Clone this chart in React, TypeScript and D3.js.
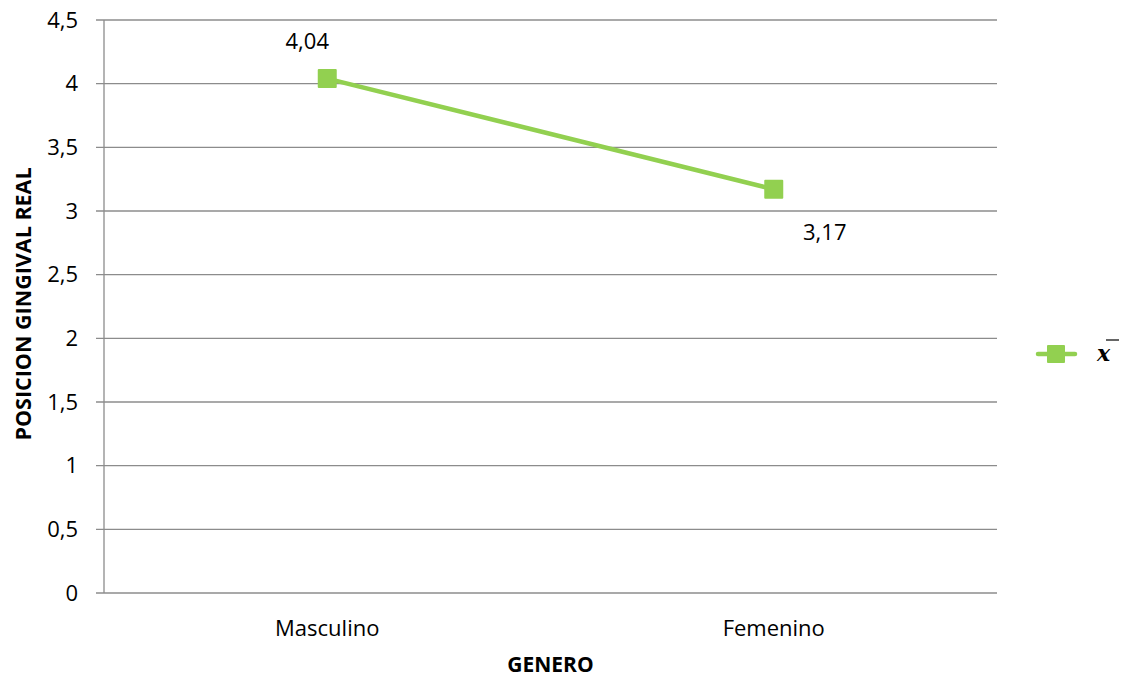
import React from "react";
import * as d3 from "d3";

const categories = ["Masculino", "Femenino"];
const values = [4.04, 3.17];
const valueLabels = ["4,04", "3,17"];
const yTicks = [0, 0.5, 1, 1.5, 2, 2.5, 3, 3.5, 4, 4.5];
const yTickLabels = ["0", "0,5", "1", "1,5", "2", "2,5", "3", "3,5", "4", "4,5"];
const xTitle = "GENERO";
const yTitle = "POSICION GINGIVAL REAL";
const seriesName = "x";

const W = 1124, H = 682;
const left = 104, right = 997, top = 20, bottom = 593;
const green = "#92D050";
const font = "'Open Sans', 'Liberation Sans', sans-serif";
const fs = 22;

export default function App() {
  const x = d3.scaleBand<string>().domain(categories).range([left, right]);
  const y = d3.scaleLinear().domain([0, 4.5]).range([bottom, top]);
  const cx = (c: string) => (x(c) as number) + x.bandwidth() / 2;
  const line = d3.line<number>().x((_, i) => cx(categories[i])).y((v) => y(v));
  const labelOffsets = [[-20, -30], [51, 51]];
  return (
    <svg width={W} height={H} style={{ position: "absolute", left: 0, top: 0, background: "#fff" }} fontFamily={font}>
      {yTicks.map((t, i) => (
        <g key={t}>
          <line x1={96} x2={right} y1={y(t)} y2={y(t)} stroke="#8c8c8c" strokeWidth={1.3} />
          <text x={78} y={y(t)} dy="0.35em" textAnchor="end" fontSize={fs} fill="#000">{yTickLabels[i]}</text>
        </g>
      ))}
      <line x1={left} x2={left} y1={top} y2={bottom} stroke="#8c8c8c" strokeWidth={1.3} />
      {categories.map((c) => (
        <text key={c} x={cx(c)} y={636} textAnchor="middle" fontSize={fs} fill="#000">{c}</text>
      ))}
      <text x={(left + right) / 2} y={672} textAnchor="middle" fontSize={fs - 1} fontWeight="bold">{xTitle}</text>
      <text transform={`translate(31, ${(163 + 445) / 2}) rotate(-90)`} textAnchor="middle" fontSize={fs - 0.5} fontWeight="bold">{yTitle}</text>
      <path d={line(values) || ""} fill="none" stroke={green} strokeWidth={4.5} />
      {values.map((v, i) => (
        <rect key={i} x={cx(categories[i]) - 9.5} y={y(v) - 9.5} width={19} height={19} fill={green} rx={1} />
      ))}
      {values.map((v, i) => (
        <text key={i} x={cx(categories[i]) + labelOffsets[i][0]} y={y(v) + labelOffsets[i][1]} textAnchor="middle" fontSize={fs}>{valueLabels[i]}</text>
      ))}
      <line x1={1038} x2={1075} y1={354} y2={354} stroke={green} strokeWidth={4.5} strokeLinecap="round" />
      <rect x={1047} y={345} width={18} height={18} fill={green} rx={1} />
      <text x={1097} y={361} fontSize={22} fontStyle="italic" fontWeight="bold" fontFamily="'DejaVu Serif', serif">{seriesName}</text>
      <line x1={1106} x2={1119} y1={340} y2={340} stroke="#000" strokeWidth={1.2} />
    </svg>
  );
}
